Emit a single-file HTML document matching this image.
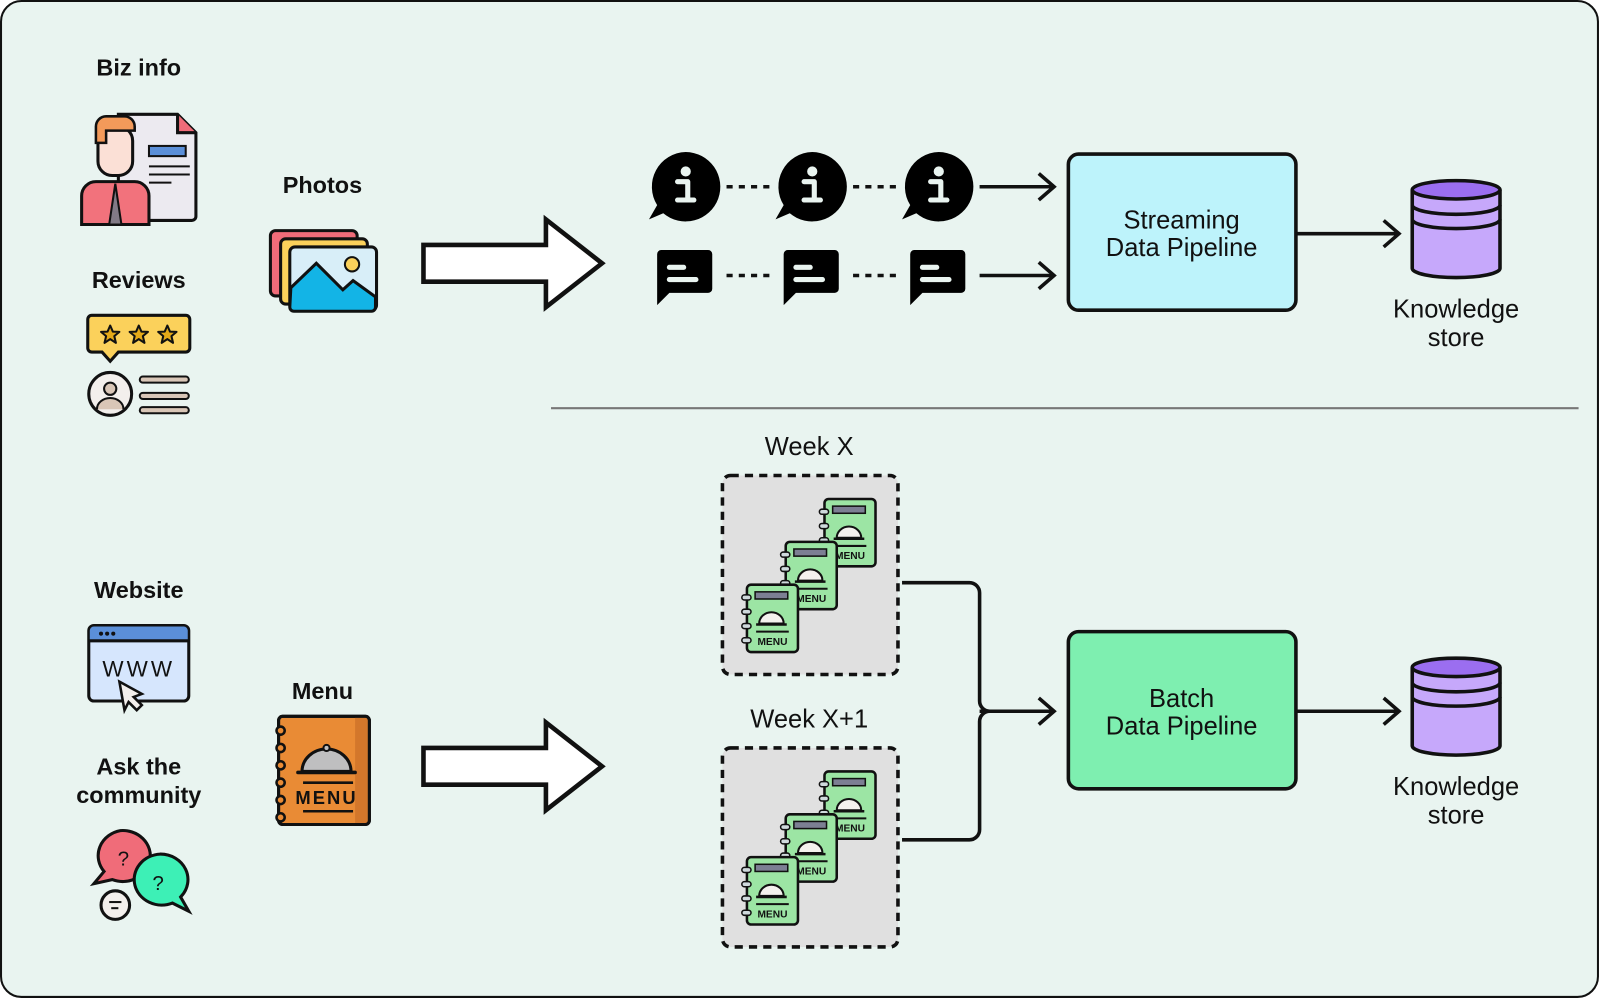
<!DOCTYPE html>
<html><head><meta charset="utf-8"><style>
html,body{margin:0;padding:0;background:#fff;}
svg{display:block;}
.lb{font-family:"Liberation Sans",sans-serif;font-weight:bold;font-size:23px;fill:#111;text-anchor:middle;}
.tx{font-family:"Liberation Sans",sans-serif;font-size:25px;fill:#111;text-anchor:middle;}
.mn{font-family:"Liberation Sans",sans-serif;font-weight:bold;font-size:10px;fill:#111;text-anchor:middle;}
</style></head><body>
<svg width="1600" height="999" viewBox="0 0 1568 979" xmlns="http://www.w3.org/2000/svg">
<defs>
<g id="menuS">
  <rect x="0" y="0" width="50" height="66" rx="4" fill="#9ce5a4" stroke="#111" stroke-width="2.5"/>
  <rect x="8" y="7" width="32" height="7" fill="#7c7f93" stroke="#111" stroke-width="1.5"/>
  <path d="M12 38 a12 11 0 0 1 24 0 z" fill="#f4f1ee" stroke="#111" stroke-width="2"/>
  <line x1="9" y1="39" x2="39" y2="39" stroke="#111" stroke-width="2.5"/>
  <line x1="9" y1="46" x2="41" y2="46" stroke="#111" stroke-width="2"/>
  <g fill="#cfd9dc" stroke="#111" stroke-width="1.5">
    <rect x="-5" y="10" width="9" height="5" rx="2.5"/><rect x="-5" y="24" width="9" height="5" rx="2.5"/>
    <rect x="-5" y="38" width="9" height="5" rx="2.5"/><rect x="-5" y="52" width="9" height="5" rx="2.5"/>
  </g>
</g>
<g id="infoI">
  <path d="M0 -34 a34 34 0 1 1 -22 60 l-14 6 l8 -14 a34 34 0 0 1 28 -52 z" fill="#000"/>
  <circle cx="0" cy="-15" r="5" fill="#e9f4f0"/>
  <path d="M-8 -5 h10 v18 h6 M-8 13 h14" stroke="#e9f4f0" stroke-width="5" fill="none" stroke-linecap="round" stroke-linejoin="round"/>
</g>
<g id="chatI">
  <path d="M-27 -24 h50 a4 4 0 0 1 4 4 v34 a4 4 0 0 1 -4 4 h-38 l-12 12 v-50 a4 4 0 0 1 4 -4 z" fill="#000"/>
  <line x1="-15" y1="-7" x2="-1" y2="-7" stroke="#e9f4f0" stroke-width="5" stroke-linecap="round"/>
  <line x1="-15" y1="5" x2="11" y2="5" stroke="#e9f4f0" stroke-width="5" stroke-linecap="round"/>
</g>
<g id="cyl">
  <path d="M0 0 v77 a43 9 0 0 0 86 0 v-77" fill="#c6a8fb" stroke="#111" stroke-width="3.5"/>
  <ellipse cx="43" cy="0" rx="43" ry="9" fill="#9b6ef0" stroke="#111" stroke-width="3.5"/>
  <path d="M0 15 a43 9 0 0 0 86 0 M0 29 a43 9 0 0 0 86 0" fill="none" stroke="#111" stroke-width="3.5"/>
</g>
<polygon id="star" points="0,-9 2.6,-3 9,-2.8 4,1.4 5.6,8 0,4.3 -5.6,8 -4,1.4 -9,-2.8 -2.6,-3" fill="#e4a918" stroke="#111" stroke-width="2" stroke-linejoin="round"/>
</defs>
<rect x="1" y="1" width="1565" height="976" rx="20" fill="#e9f4f0" stroke="#111" stroke-width="2"/>
<line x1="540" y1="400" x2="1547" y2="400" stroke="#777" stroke-width="2"/>

<text class="lb" x="136" y="74">Biz info</text>
<text class="lb" x="136" y="282">Reviews</text>
<text class="lb" x="316" y="189">Photos</text>
<text class="lb" x="136" y="586">Website</text>
<text class="lb" x="136" y="759">Ask the</text>
<text class="lb" x="136" y="787">community</text>
<text class="lb" x="316" y="685">Menu</text>

<!-- biz info icon -->
<path d="M116 112 h58 l18 18 v82 a4 4 0 0 1 -4 4 h-68 a4 4 0 0 1 -4 -4 z" fill="#eceaf0" stroke="#111" stroke-width="3"/>
<path d="M174 112 v18 h18" fill="#f06c79" stroke="#111" stroke-width="3"/>
<rect x="146" y="143" width="36" height="10" fill="#5b8fd8" stroke="#111" stroke-width="2"/>
<line x1="146" y1="163" x2="186" y2="163" stroke="#111" stroke-width="2"/><line x1="146" y1="171" x2="186" y2="171" stroke="#111" stroke-width="2"/><line x1="146" y1="179" x2="168" y2="179" stroke="#111" stroke-width="2"/>
<path d="M80 220 v-28 a14 14 0 0 1 14 -14 h38 a14 14 0 0 1 14 14 v28 z" fill="#f2727c" stroke="#111" stroke-width="3"/>
<path d="M113 180 l-6 40 h12 l-6 -40" fill="#827a86" stroke="#111" stroke-width="2"/>
<rect x="96" y="124" width="34" height="48" rx="14" fill="#fbe0d6" stroke="#111" stroke-width="3"/>
<path d="M94 140 v-16 a10 10 0 0 1 10 -10 h18 a10 10 0 0 1 10 10 v4 h-28 v12 z" fill="#f39a5a" stroke="#111" stroke-width="2.5"/>

<!-- reviews icon -->
<path d="M90 309 h92 a4 4 0 0 1 4 4 v28 a4 4 0 0 1 -4 4 h-66 l-8 9 -8 -9 h-10 a4 4 0 0 1 -4 -4 v-28 a4 4 0 0 1 4 -4 z" fill="#fbd15b" stroke="#111" stroke-width="3"/>
<use href="#star" x="108" y="328"/><use href="#star" x="136" y="328"/><use href="#star" x="164" y="328"/>
<circle cx="108" cy="386" r="21" fill="#f3efec" stroke="#111" stroke-width="3"/>
<circle cx="108" cy="381" r="6" fill="#d9c6b7" stroke="#111" stroke-width="2"/>
<path d="M95 401 a13 11 0 0 1 26 0" fill="#d9c6b7" stroke="#111" stroke-width="2"/>
<g stroke="#111" stroke-width="8" stroke-linecap="round"><line x1="140" y1="372" x2="182" y2="372"/><line x1="140" y1="388" x2="182" y2="388"/><line x1="140" y1="402" x2="182" y2="402"/></g>
<g stroke="#d9c6b7" stroke-width="4" stroke-linecap="round"><line x1="140" y1="372" x2="182" y2="372"/><line x1="140" y1="388" x2="182" y2="388"/><line x1="140" y1="402" x2="182" y2="402"/></g>

<!-- photos icon -->
<rect x="265" y="226" width="85" height="64" rx="5" fill="#f06c79" stroke="#111" stroke-width="3"/>
<rect x="275" y="234" width="85" height="64" rx="5" fill="#fbd15b" stroke="#111" stroke-width="3"/>
<rect x="284" y="242" width="85" height="62" rx="5" fill="#d8eef8" stroke="#111" stroke-width="3"/>
<path d="M285 282 l25 -24 l26 26 l10 -9 l22 16 v10 a4 4 0 0 1 -4 4 h-76 a4 4 0 0 1 -4 -4 z" fill="#13b4e6" stroke="#111" stroke-width="3"/>
<circle cx="345" cy="259" r="7" fill="#fbd15b" stroke="#111" stroke-width="2"/>

<!-- website icon -->
<rect x="87" y="613" width="98" height="74" rx="5" fill="#d6e6fd" stroke="#111" stroke-width="3"/>
<path d="M88 628 v-10 a4 4 0 0 1 4 -4 h88 a4 4 0 0 1 4 4 v10 z" fill="#5b8fd8"/>
<line x1="87" y1="628" x2="185" y2="628" stroke="#111" stroke-width="3"/>
<circle cx="99" cy="621" r="2" fill="#111"/><circle cx="105" cy="621" r="2" fill="#111"/><circle cx="111" cy="621" r="2" fill="#111"/>
<text x="136" y="663" font-family="Liberation Sans,sans-serif" font-size="22" text-anchor="middle" fill="#111" letter-spacing="3">WWW</text>
<path d="M117 668 l22 12 -8 3 8 8 -5 5 -8 -8 -4 8 z" fill="#f3efec" stroke="#111" stroke-width="2.5"/>

<!-- ask the community icon -->
<path d="M118 814 a27 25 0 1 1 -8 48 l-18 4 10 -12 a27 25 0 0 1 16 -40 z" fill="#f06c79" stroke="#111" stroke-width="3"/>
<text x="121" y="848" font-family="Liberation Sans,sans-serif" font-size="20" text-anchor="middle" fill="#111">?</text>
<path d="M157 837 a27 25 0 1 0 12 48 l16 8 -8 -14 a27 25 0 0 0 -20 -42 z" fill="#3df0b6" stroke="#111" stroke-width="3"/>
<text x="155" y="872" font-family="Liberation Sans,sans-serif" font-size="20" text-anchor="middle" fill="#111">?</text>
<circle cx="113" cy="887" r="14" fill="#f3efec" stroke="#111" stroke-width="3"/>
<line x1="107" y1="884" x2="119" y2="884" stroke="#111" stroke-width="2"/><line x1="109" y1="890" x2="116" y2="890" stroke="#111" stroke-width="2"/>

<!-- orange menu -->
<rect x="273" y="702" width="89" height="106" rx="4" fill="#e98b35" stroke="#111" stroke-width="3"/>
<rect x="348" y="703" width="12" height="104" fill="#d3772b"/>
<rect x="273" y="702" width="89" height="106" rx="4" fill="none" stroke="#111" stroke-width="3"/>
<g fill="#e98b35" stroke="#111" stroke-width="2.5"><circle cx="275" cy="716" r="4"/><circle cx="275" cy="733" r="4"/><circle cx="275" cy="750" r="4"/><circle cx="275" cy="767" r="4"/><circle cx="275" cy="784" r="4"/><circle cx="275" cy="801" r="4"/></g>
<path d="M296 756 a24 22 0 0 1 48 0 z" fill="#bfbfc0" stroke="#111" stroke-width="3"/>
<circle cx="320" cy="733" r="3" fill="#bfbfc0" stroke="#111" stroke-width="2"/>
<line x1="292" y1="757" x2="348" y2="757" stroke="#111" stroke-width="3.5" stroke-linecap="round"/>
<line x1="297" y1="767" x2="346" y2="767" stroke="#111" stroke-width="2.5"/>
<text x="320" y="788" font-family="Liberation Sans,sans-serif" font-weight="bold" font-size="18" text-anchor="middle" fill="#111" letter-spacing="2">MENU</text>
<line x1="297" y1="795" x2="346" y2="795" stroke="#111" stroke-width="2.5"/>

<!-- hollow arrows -->
<path d="M415 240 h120 v-25 l55 43 -55 43 v-25 h-120 z" fill="#fff" stroke="#111" stroke-width="4.5" stroke-linejoin="miter"/>
<path d="M415 733 h120 v-25 l55 43 -55 43 v-25 h-120 z" fill="#fff" stroke="#111" stroke-width="4.5" stroke-linejoin="miter"/>

<!-- streaming icons -->
<use href="#infoI" x="672" y="183"/><use href="#infoI" x="796" y="183"/><use href="#infoI" x="920" y="183"/>
<use href="#chatI" x="671" y="269"/><use href="#chatI" x="795" y="269"/><use href="#chatI" x="919" y="269"/>
<g stroke="#111" stroke-width="3.5" stroke-dasharray="6 6">
<line x1="712" y1="183" x2="758" y2="183"/><line x1="836" y1="183" x2="882" y2="183"/>
<line x1="712" y1="270" x2="758" y2="270"/><line x1="836" y1="270" x2="882" y2="270"/>
</g>
<g stroke="#111" stroke-width="3.5" fill="none">
<line x1="960" y1="183" x2="1033" y2="183"/><path d="M1018 170 l15 13 -15 13"/>
<line x1="960" y1="270" x2="1033" y2="270"/><path d="M1018 257 l15 13 -15 13"/>
<line x1="1270" y1="229" x2="1371" y2="229"/><path d="M1356 216 l15 13 -15 13"/>
<line x1="1270" y1="697" x2="1371" y2="697"/><path d="M1356 684 l15 13 -15 13"/>
<path d="M884 571 h66 a10 10 0 0 1 10 10 v106 a10 10 0 0 0 10 10"/>
<path d="M884 823 h66 a10 10 0 0 0 10 -10 v-106 a10 10 0 0 1 10 -10"/>
<line x1="960" y1="697" x2="1033" y2="697"/><path d="M1018 684 l15 13 -15 13"/>
</g>

<!-- pipelines -->
<rect x="1047" y="151" width="223" height="153" rx="10" fill="#bdf3fb" stroke="#111" stroke-width="3.5"/>
<text class="tx" x="1158" y="224">Streaming</text><text class="tx" x="1158" y="251">Data Pipeline</text>
<rect x="1047" y="619" width="223" height="154" rx="10" fill="#7eefb0" stroke="#111" stroke-width="3.5"/>
<text class="tx" x="1158" y="693">Batch</text><text class="tx" x="1158" y="720">Data Pipeline</text>

<use href="#cyl" x="1384" y="186"/>
<use href="#cyl" x="1384" y="654"/>
<text class="tx" x="1427" y="311">Knowledge</text><text class="tx" x="1427" y="339">store</text>
<text class="tx" x="1427" y="779">Knowledge</text><text class="tx" x="1427" y="807">store</text>

<!-- week boxes -->
<text class="tx" x="793" y="446">Week X</text>
<rect x="708" y="466" width="172" height="195" rx="8" fill="#e0e0e0" stroke="#111" stroke-width="3.5" stroke-dasharray="8 6"/>
<use href="#menuS" x="808" y="489"/><text class="mn" x="833" y="548">MENU</text>
<use href="#menuS" x="770" y="531"/><text class="mn" x="795" y="590">MENU</text>
<use href="#menuS" x="732" y="573"/><text class="mn" x="757" y="632">MENU</text>
<text class="tx" x="793" y="713">Week X+1</text>
<rect x="708" y="733" width="172" height="195" rx="8" fill="#e0e0e0" stroke="#111" stroke-width="3.5" stroke-dasharray="8 6"/>
<use href="#menuS" x="808" y="756"/><text class="mn" x="833" y="815">MENU</text>
<use href="#menuS" x="770" y="798"/><text class="mn" x="795" y="857">MENU</text>
<use href="#menuS" x="732" y="840"/><text class="mn" x="757" y="899">MENU</text>
</svg>
</body></html>
